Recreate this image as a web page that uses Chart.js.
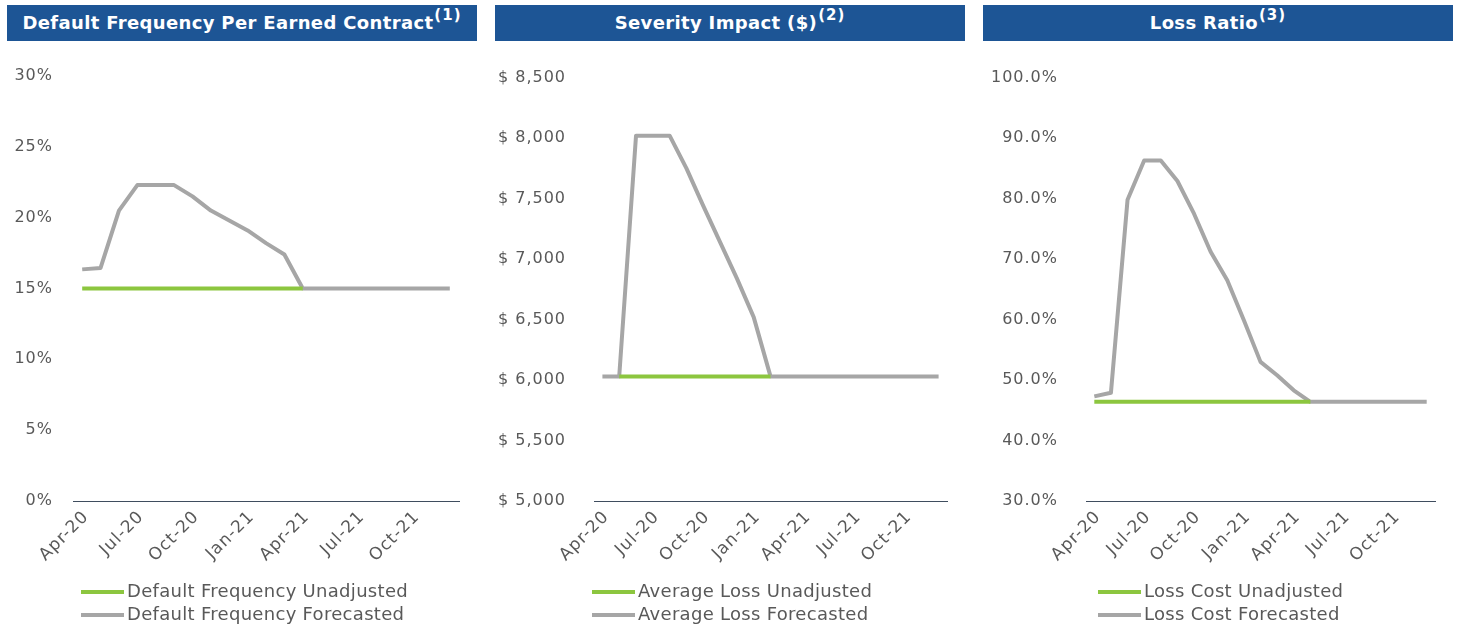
<!DOCTYPE html>
<html>
<head>
<meta charset="utf-8">
<script src="https://cdn.jsdelivr.net/npm/chart.js@4/dist/chart.umd.min.js"></script>
<style>
  body { margin: 0; background: #fff; width: 1458px; height: 631px; position: relative; overflow: hidden; font-family: "DejaVu Sans", Verdana, sans-serif; }
  .head { position: absolute; top: 5px; height: 36px; width: 470px; background: #1d5595; color: #fff; font-weight: bold; font-size: 18px; letter-spacing: 0.35px; text-align: center; line-height: 36px; }
  .head sup { font-size: 15px; letter-spacing: 1px; line-height: 0; position: relative; top: -2px; margin-left: 1px; }
  canvas { position: absolute; top: 40px; }
  .legend { position: absolute; font-size: 18px; color: #595959; letter-spacing: 0.3px; }
  .legend div { height: 23px; line-height: 23px; white-space: nowrap; }
  .legend span { display: inline-block; width: 43px; height: 4px; vertical-align: middle; margin-right: 3px; }
</style>
</head>
<body>
<div class="head" style="left:7px">Default Frequency Per Earned Contract<sup>(1)</sup></div>
<div class="head" style="left:495px">Severity Impact ($)<sup>(2)</sup></div>
<div class="head" style="left:983px">Loss Ratio<sup>(3)</sup></div>

<canvas id="freqChart" width="476" height="545" style="left:0px"></canvas>
<canvas id="sevChart" width="476" height="545" style="left:488px"></canvas>
<canvas id="lossChart" width="470" height="545" style="left:982px"></canvas>

<div class="legend" style="left:81px; top:579px">
  <div><span style="background:#8cc63f"></span>Default Frequency Unadjusted</div>
  <div><span style="background:#a6a6a6"></span>Default Frequency Forecasted</div>
</div>
<div class="legend" style="left:592px; top:579px">
  <div><span style="background:#8cc63f"></span>Average Loss Unadjusted</div>
  <div><span style="background:#a6a6a6"></span>Average Loss Forecasted</div>
</div>
<div class="legend" style="left:1098px; top:579px">
  <div><span style="background:#8cc63f"></span>Loss Cost Unadjusted</div>
  <div><span style="background:#a6a6a6"></span>Loss Cost Forecasted</div>
</div>

<script>
const months = ['Apr-20', 'May-20', 'Jun-20', 'Jul-20', 'Aug-20', 'Sep-20', 'Oct-20', 'Nov-20', 'Dec-20',
  'Jan-21', 'Feb-21', 'Mar-21', 'Apr-21', 'May-21', 'Jun-21', 'Jul-21', 'Aug-21', 'Sep-21', 'Oct-21', 'Nov-21', 'Dec-21'];

// Default frequency per earned contract (%)
const freqUnadjusted = [15, 15, 15, 15, 15, 15, 15, 15, 15, 15, 15, 15, 15,
  null, null, null, null, null, null, null, null];
const freqForecasted = [16.35, 16.45, 20.5, 22.3, 22.3, 22.3, 21.5, 20.5, 19.8, 19.1, 18.2, 17.4, 15,
  15, 15, 15, 15, 15, 15, 15, 15];

// Average loss severity ($)
const sevUnadjusted = [null, 6030, 6030, 6030, 6030, 6030, 6030, 6030, 6030, 6030, 6030,
  null, null, null, null, null, null, null, null, null, null];
const sevForecasted = [6030, 6030, 8020, 8020, 8020, 7750, 7440, 7140, 6840, 6520, 6030,
  6030, 6030, 6030, 6030, 6030, 6030, 6030, 6030, 6030, 6030];

// Loss ratio (%)
const lossUnadjusted = [46.4, 46.4, 46.4, 46.4, 46.4, 46.4, 46.4, 46.4, 46.4, 46.4, 46.4, 46.4, 46.4, 46.4,
  null, null, null, null, null, null, null];
const lossForecasted = [47.3, 47.9, 79.8, 86.3, 86.3, 82.9, 77.5, 71.2, 66.5, 59.9, 53.0, 50.8, 48.3, 46.4,
  46.4, 46.4, 46.4, 46.4, 46.4, 46.4, 46.4];

const GREEN = '#8cc63f';
const GREY = '#a6a6a6';
const TEXT = '#595959';

// canvas text in these charts is spaced out a little
const spacing = {
  id: 'spacing',
  beforeUpdate(chart) { chart.ctx.letterSpacing = '1px'; },
  beforeDraw(chart) { chart.ctx.letterSpacing = '1px'; }
};

function makeChart(id, unadjusted, forecasted, y, box) {
  new Chart(document.getElementById(id), {
    type: 'line',
    data: {
      labels: months,
      datasets: [
        { label: 'Unadjusted', data: unadjusted, borderColor: GREEN, borderWidth: 4 },
        { label: 'Forecasted', data: forecasted, borderColor: GREY, borderWidth: 4 }
      ]
    },
    options: {
      responsive: false,
      animation: false,
      spanGaps: false,
      elements: {
        point: { radius: 0 },
        line: { tension: 0, borderJoinStyle: 'round', fill: false }
      },
      layout: { padding: { left: 0, right: box.right, top: 36, bottom: 0 } },
      plugins: { legend: { display: false }, tooltip: { enabled: false } },
      scales: {
        x: {
          offset: true,
          grid: { display: false, drawTicks: false },
          border: { display: true, color: '#3f4d5e', width: 1 },
          afterFit: s => { s.height = 84; },
          ticks: {
            autoSkip: false,
            minRotation: 45,
            maxRotation: 45,
            padding: 6,
            labelOffset: 4,
            color: TEXT,
            font: { family: 'DejaVu Sans', size: 17 },
            callback: (v, i) => (i % 3 === 0 ? months[i] : '')
          }
        },
        y: {
          min: y.min,
          max: y.max,
          grid: { display: false, drawTicks: false },
          border: { display: false },
          afterFit: s => { s.width = box.left; },
          ticks: {
            stepSize: y.step,
            padding: box.gap,
            color: TEXT,
            font: { family: 'DejaVu Sans', size: 16 },
            callback: y.format
          }
        }
      }
    },
    plugins: [spacing]
  });
}

makeChart('freqChart', freqUnadjusted, freqForecasted,
  { min: 0, max: 30, step: 5, format: v => v + '%' },
  { left: 73, right: 17, gap: 20 });

makeChart('sevChart', sevUnadjusted, sevForecasted,
  { min: 5000, max: 8500, step: 500, format: v => '$ ' + v.toLocaleString('en-US') },
  { left: 106, right: 17, gap: 28 });

makeChart('lossChart', lossUnadjusted, lossForecasted,
  { min: 30, max: 100, step: 10, format: v => v.toFixed(1) + '%' },
  { left: 104, right: 17, gap: 28 });
</script>
</body>
</html>
